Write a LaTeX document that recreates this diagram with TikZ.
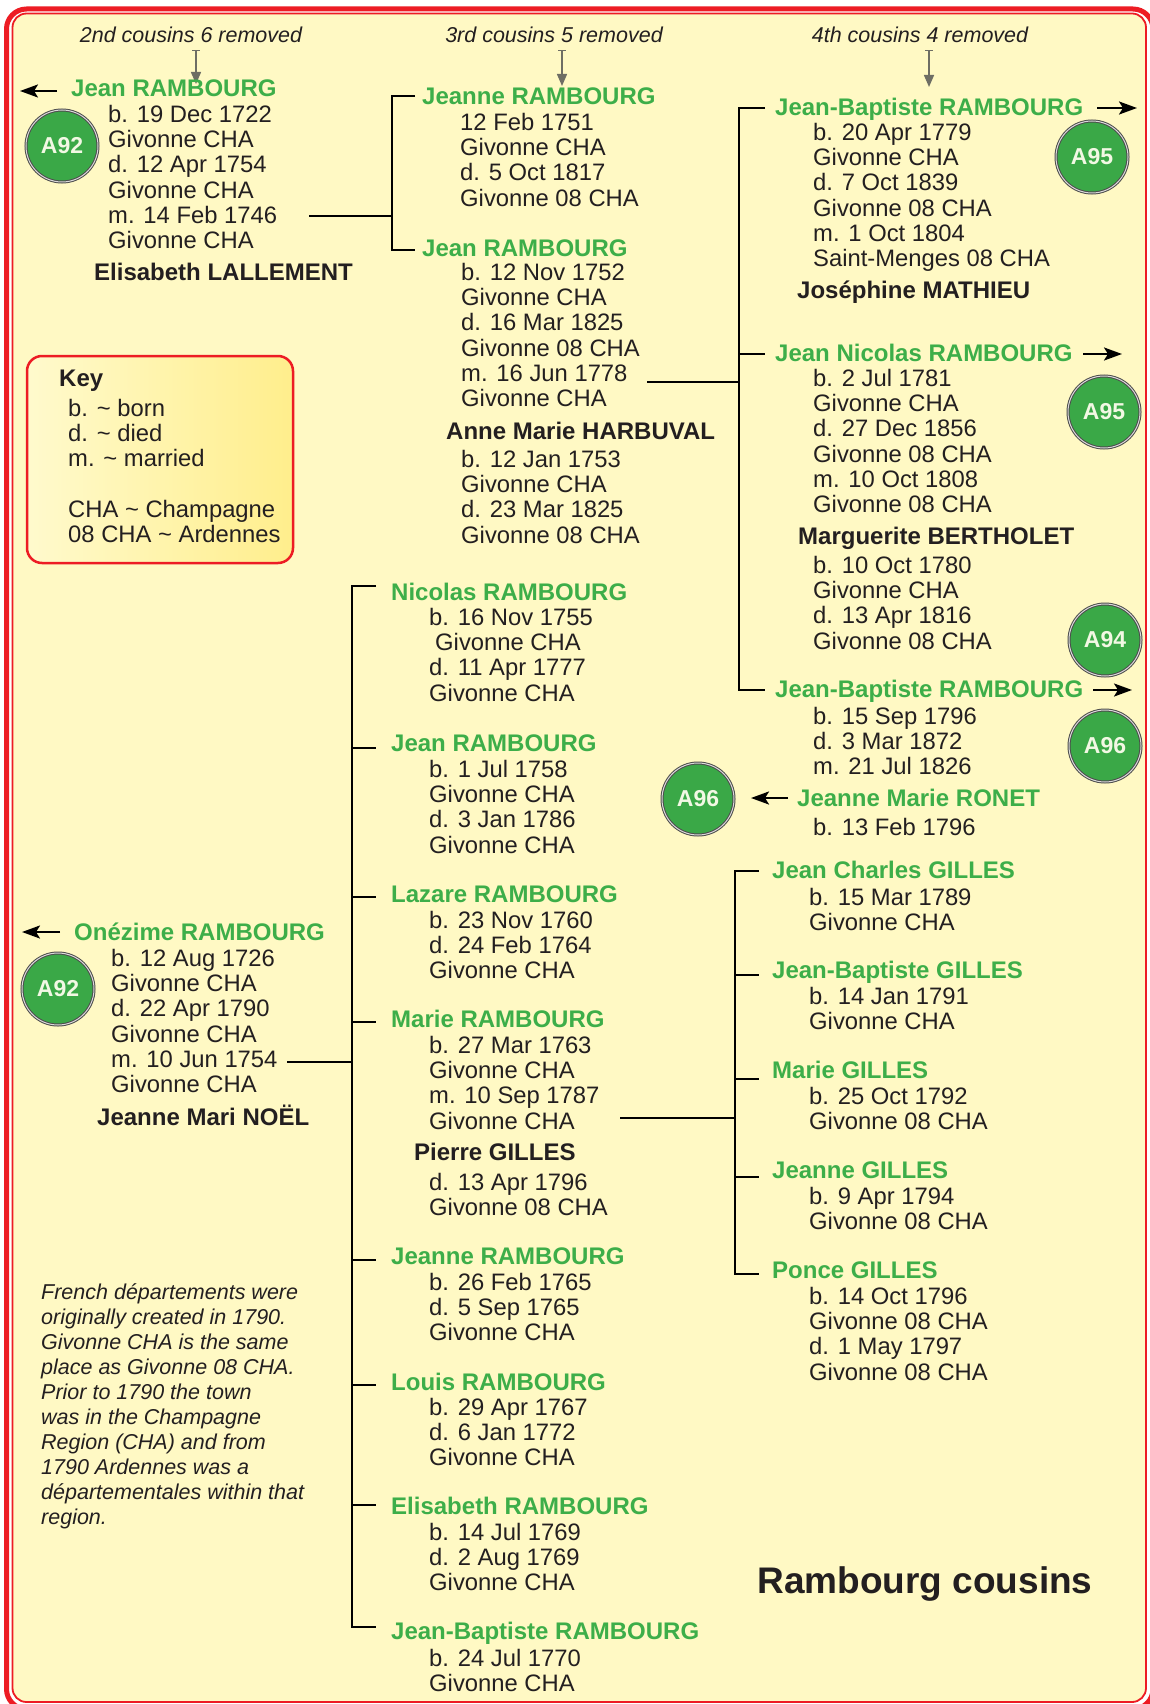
\documentclass[tikz,border=0pt]{standalone}
\usepackage{fontspec}
\setmainfont{Liberation Sans}
\usetikzlibrary{arrows.meta}
\definecolor{bg}{RGB}{255,249,196}
\definecolor{nmgreen}{RGB}{61,174,73}
\definecolor{tx}{RGB}{35,31,32}
\definecolor{rd}{RGB}{237,28,36}
\definecolor{cg}{RGB}{58,168,71}
\definecolor{ga}{RGB}{110,110,100}
\definecolor{keylight}{RGB}{255,250,205}
\definecolor{keydark}{RGB}{255,238,140}
\definecolor{ctext}{RGB}{242,248,228}
\begin{document}
\begin{tikzpicture}[x=1pt,y=-1pt,
  nm/.style={font=\bfseries\fontsize{24}{25.3}\selectfont, text=nmgreen, anchor=base west, inner sep=0pt, yshift=-8.6pt},
  sp/.style={nm, text=tx},
  det/.style={font=\fontsize{23.8}{25.3}\selectfont, text=tx, anchor=north west, align=left, inner sep=0pt,
    execute at begin node=\strut, yshift=9.21pt},
  hdr/.style={font=\itshape\fontsize{21.5}{25}\selectfont, text=tx, anchor=base, inner sep=0pt, yshift=-7.7pt},
  note/.style={font=\itshape\fontsize{21.5}{25}\selectfont, text=tx, anchor=north west, align=left, inner sep=0pt,
    execute at begin node=\strut, yshift=9.8pt},
  link/.style={line width=2.8pt, black, line join=miter},
  arr/.style={line width=2.4pt, black, -{Stealth[length=18pt,width=13pt,inset=4pt]}},
  garr/.style={line width=1.5pt, ga, {Bar[width=8pt,line width=1.5pt]}-{Triangle[length=12pt,width=10pt]}},
  circ/.style={circle, fill=cg, draw=black!70, double=white!85!black, double distance=1pt, line width=1pt,
    minimum size=72pt, inner sep=0pt, text=ctext, font=\bfseries\fontsize{23}{23}\selectfont},
  keybox/.style={draw=rd, line width=2.5pt, rounded corners=15pt, left color=keylight, right color=keydark,
    minimum width=266pt, minimum height=207pt, inner sep=0pt}
]
% page and border
\path[fill=white] (0,0) rectangle (1149,1704);
\useasboundingbox (0,0) rectangle (1149,1704);
\draw[rd, line width=5pt, rounded corners=20pt] (6.5,9) rectangle (1153,1709);
\draw[rd, line width=1.8pt, fill=bg, rounded corners=14pt] (12.5,13.5) rectangle (1146,1702);

% headers
\node[hdr] (h1) at (191,35) {2nd cousins 6 removed};
\node[hdr] (h2) at (554,35) {3rd cousins 5 removed};
\node[hdr] (h3) at (920,35) {4th cousins 4 removed};
\coordinate (g1a) at (196,50); \coordinate (g1b) at (196,84);
\coordinate (g2a) at (562,50); \coordinate (g2b) at (562,86);
\coordinate (g3a) at (929,50); \coordinate (g3b) at (929,87);
\draw[garr] (g1a) -- (g1b);
\draw[garr] (g2a) -- (g2b);
\draw[garr] (g3a) -- (g3b);

% key
\node[keybox] (keyb) at (160,459.5) {};
\node[sp] (keyt) at (59,378) {Key};
\node[det] (keyd) at (68,408) {b. \textasciitilde{} born\\d. \textasciitilde{} died\\m. \textasciitilde{} married\\\mbox{}\\CHA \textasciitilde{} Champagne\\08 CHA \textasciitilde{} Ardennes};

% Block A
\node[nm] (nA) at (71,88) {Jean RAMBOURG};
\node[det] (dA) at (108,114) {b. 19 Dec 1722\\Givonne CHA\\d. 12 Apr 1754\\Givonne CHA\\m. 14 Feb 1746\\Givonne CHA};
\node[sp] (sA) at (94,272) {Elisabeth LALLEMENT};
\node[circ] (cA) at (62,146) {A92};
\coordinate (aA1) at (57,91); \coordinate (aA2) at (20,91);
\draw[arr] (aA1) -- (aA2);

% Block B
\node[nm] (nB) at (422,96) {Jeanne RAMBOURG};
\node[det] (dB) at (460,122) {12 Feb 1751\\Givonne CHA\\d. 5 Oct 1817\\Givonne 08 CHA};

% Block C
\node[nm] (nC) at (422,248) {Jean RAMBOURG};
\node[det] (dC) at (461,272) {b. 12 Nov 1752\\Givonne CHA\\d. 16 Mar 1825\\Givonne 08 CHA\\m. 16 Jun 1778\\Givonne CHA};
\node[sp] (sC) at (446,431) {Anne Marie HARBUVAL};
\node[det] (dsC) at (461,459) {b. 12 Jan 1753\\Givonne CHA\\d. 23 Mar 1825\\Givonne 08 CHA};

% connector 1
\coordinate (m1) at (309,216); \coordinate (j1) at (392,216);
\coordinate (t1a) at (415,96); \coordinate (v1a) at (392,96);
\coordinate (t1b) at (415,250); \coordinate (v1b) at (392,250);
\draw[link] (m1) -- (j1);
\draw[link] (t1a) -- (v1a) -- (v1b) -- (t1b);

% Block D
\node[nm] (nD) at (775,107) {Jean-Baptiste RAMBOURG};
\node[det] (dD) at (813,132) {b. 20 Apr 1779\\Givonne CHA\\d. 7 Oct 1839\\Givonne 08 CHA\\m. 1 Oct 1804\\Saint-Menges 08 CHA};
\node[sp] (sD) at (797,290) {Joséphine MATHIEU};
\node[circ] (cD) at (1092,157) {A95};
\coordinate (aD1) at (1097,108); \coordinate (aD2) at (1137,108);
\draw[arr] (aD1) -- (aD2);

% Block E
\node[nm] (nE) at (775,353) {Jean Nicolas RAMBOURG};
\node[det] (dE) at (813,378) {b. 2 Jul 1781\\Givonne CHA\\d. 27 Dec 1856\\Givonne 08 CHA\\m. 10 Oct 1808\\Givonne 08 CHA};
\node[sp] (sE) at (798,536) {Marguerite BERTHOLET};
\node[det] (dsE) at (813,565) {b. 10 Oct 1780\\Givonne CHA\\d. 13 Apr 1816\\Givonne 08 CHA};
\node[circ] (cE1) at (1104,412) {A95};
\node[circ] (cE2) at (1105,640) {A94};
\coordinate (aE1) at (1083,354); \coordinate (aE2) at (1122,354);
\draw[arr] (aE1) -- (aE2);

% Block F
\node[nm] (nF) at (775,689) {Jean-Baptiste RAMBOURG};
\node[det] (dF) at (813,716) {b. 15 Sep 1796\\d. 3 Mar 1872\\m. 21 Jul 1826};
\node[circ] (cF) at (1105,746) {A96};
\coordinate (aF1) at (1093,690); \coordinate (aF2) at (1132,690);
\draw[arr] (aF1) -- (aF2);
\node[nm] (nR) at (797,798) {Jeanne Marie RONET};
\node[det] (dR) at (813,827) {b. 13 Feb 1796};
\node[circ] (cR) at (698,799) {A96};
\coordinate (aR1) at (788,798); \coordinate (aR2) at (751,798);
\draw[arr] (aR1) -- (aR2);

% connector 2
\coordinate (m2) at (647,382); \coordinate (j2) at (739,382);
\coordinate (t2a) at (765,108); \coordinate (v2a) at (739,108);
\coordinate (t2b) at (765,354); \coordinate (v2b) at (739,354);
\coordinate (t2c) at (765,690); \coordinate (v2c) at (739,690);
\draw[link] (m2) -- (j2);
\draw[link] (t2a) -- (v2a) -- (v2c) -- (t2c);
\draw[link] (v2b) -- (t2b);

% Block G
\node[nm] (nG) at (74,932) {Onézime RAMBOURG};
\node[det] (dG) at (111,958) {b. 12 Aug 1726\\Givonne CHA\\d. 22 Apr 1790\\Givonne CHA\\m. 10 Jun 1754\\Givonne CHA};
\node[sp] (sG) at (97,1117) {Jeanne Mari NOËL};
\node[circ] (cG) at (58,989) {A92};
\coordinate (aG1) at (60,932); \coordinate (aG2) at (22,932);
\draw[arr] (aG1) -- (aG2);

% children of G
\node[nm] (k1) at (391,592) {Nicolas RAMBOURG};
\node[det] (dk1) at (429,617) {b. 16 Nov 1755\\\hspace*{6pt}Givonne CHA\\d. 11 Apr 1777\\Givonne CHA};
\node[nm] (k2) at (391,743) {Jean RAMBOURG};
\node[det] (dk2) at (429,769) {b. 1 Jul 1758\\Givonne CHA\\d. 3 Jan 1786\\Givonne CHA};
\node[nm] (k3) at (391,894) {Lazare RAMBOURG};
\node[det] (dk3) at (429,920) {b. 23 Nov 1760\\d. 24 Feb 1764\\Givonne CHA};
\node[nm] (k4) at (391,1019) {Marie RAMBOURG};
\node[det] (dk4) at (429,1045) {b. 27 Mar 1763\\Givonne CHA\\m. 10 Sep 1787\\Givonne CHA};
\node[sp] (sk4) at (414,1152) {Pierre GILLES};
\node[det] (dsk4) at (429,1182) {d. 13 Apr 1796\\Givonne 08 CHA};
\node[nm] (k5) at (391,1256) {Jeanne RAMBOURG};
\node[det] (dk5) at (429,1282) {b. 26 Feb 1765\\d. 5 Sep 1765\\Givonne CHA};
\node[nm] (k6) at (391,1382) {Louis RAMBOURG};
\node[det] (dk6) at (429,1407) {b. 29 Apr 1767\\d. 6 Jan 1772\\Givonne CHA};
\node[nm] (k7) at (391,1506) {Elisabeth RAMBOURG};
\node[det] (dk7) at (429,1532) {b. 14 Jul 1769\\d. 2 Aug 1769\\Givonne CHA};
\node[nm] (k8) at (391,1631) {Jean-Baptiste RAMBOURG};
\node[det] (dk8) at (429,1658) {b. 24 Jul 1770\\Givonne CHA};

% connector 3
\coordinate (m3) at (287,1062); \coordinate (j3) at (352,1062);
\coordinate (t3a) at (376,586); \coordinate (v3a) at (352,586);
\coordinate (t3h) at (376,1627); \coordinate (v3h) at (352,1627);
\draw[link] (m3) -- (j3);
\draw[link] (t3a) -- (v3a) -- (v3h) -- (t3h);
\foreach \yy [count=\i] in {748,897,1022,1260,1385,1505} {
  \coordinate (v3t\i) at (352,\yy); \coordinate (t3t\i) at (376,\yy);
  \draw[link] (v3t\i) -- (t3t\i);
}

% GILLES children
\node[nm] (g1) at (772,870) {Jean Charles GILLES};
\node[det] (dg1) at (809,897) {b. 15 Mar 1789\\Givonne CHA};
\node[nm] (g2) at (772,970) {Jean-Baptiste GILLES};
\node[det] (dg2) at (809,996) {b. 14 Jan 1791\\Givonne CHA};
\node[nm] (g3) at (772,1070) {Marie GILLES};
\node[det] (dg3) at (809,1096) {b. 25 Oct 1792\\Givonne 08 CHA};
\node[nm] (g4) at (772,1170) {Jeanne GILLES};
\node[det] (dg4) at (809,1196) {b. 9 Apr 1794\\Givonne 08 CHA};
\node[nm] (g5) at (772,1270) {Ponce GILLES};
\node[det] (dg5) at (809,1296) {b. 14 Oct 1796\\Givonne 08 CHA\\d. 1 May 1797\\Givonne 08 CHA};

% connector 4
\coordinate (m4) at (620,1118); \coordinate (j4) at (735,1118);
\coordinate (t4a) at (759,871); \coordinate (v4a) at (735,871);
\coordinate (t4e) at (759,1274); \coordinate (v4e) at (735,1274);
\draw[link] (m4) -- (j4);
\draw[link] (t4a) -- (v4a) -- (v4e) -- (t4e);
\foreach \yy [count=\i] in {975,1079,1177} {
  \coordinate (v4t\i) at (735,\yy); \coordinate (t4t\i) at (759,\yy);
  \draw[link] (v4t\i) -- (t4t\i);
}

% note
\node[note] (note) at (41,1293) {French départements were\\originally created in 1790.\\Givonne CHA is the same\\place as Givonne 08 CHA.\\Prior to 1790 the town\\was in the Champagne\\Region (CHA) and from\\1790 Ardennes was a\\départementales within that\\region.};

% title
\node[font=\bfseries\fontsize{37}{37}\selectfont, text=tx, anchor=base, inner sep=0pt] (title) at (925,1593) {Rambourg cousins};
\end{tikzpicture}
\end{document}
